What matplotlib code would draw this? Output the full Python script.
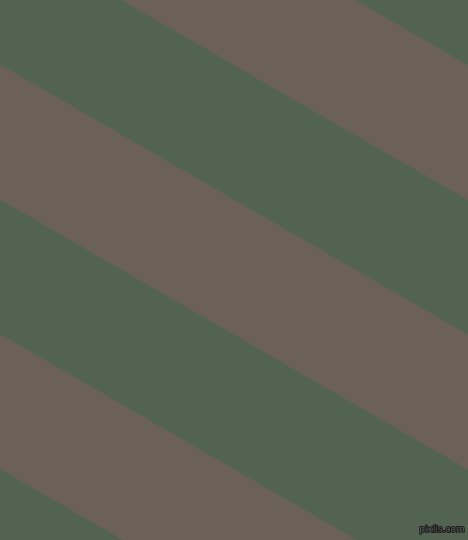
import numpy as np
import matplotlib.pyplot as plt
import matplotlib.patheffects as pe

# stripe edges: y where each edge meets the left side (px), slope of the edges
edges = [-340, -204, -69, 65.5, 200.5, 335, 470, 605, 740]
stripe_colors = ["#6c6158", "#536351", "#6c6158", "#536351", "#6c6158",
                 "#536351", "#6c6158", "#536351"]
stripe_colors = stripe_colors[1:] + stripe_colors[:1]
slope = np.tan(np.radians(30))
width, height = 468, 540

fig = plt.figure(figsize=(4.68, 5.4), dpi=100)
ax = fig.add_axes([0, 0, 1, 1])
x = np.array([0, width])
for i, c in enumerate(stripe_colors):
    # a little overlap so no seam shows between stripes
    ax.fill_between(x, edges[i] + slope * x - 1, edges[i + 1] + slope * x,
                    color=c, linewidth=0)
ax.set_xlim(0, width)
ax.set_ylim(height, 0)
ax.axis("off")

ax.text(465, 534, "pixlis.com", fontsize=6.5, color="#5a5a5a",
        ha="right", va="bottom",
        path_effects=[pe.withStroke(linewidth=1.2, foreground="#1a1a1a")])

fig.savefig("out.png", dpi=100)
